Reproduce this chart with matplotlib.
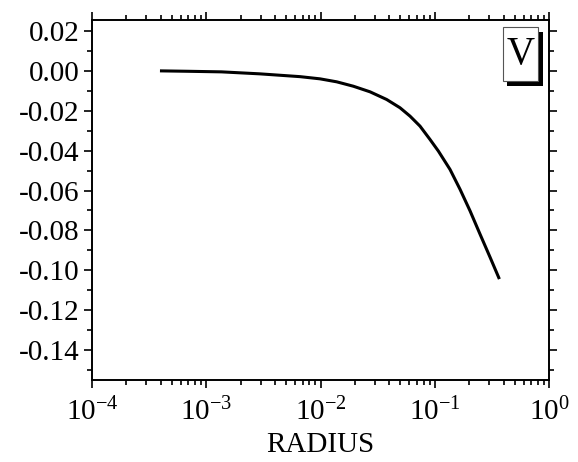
import matplotlib
matplotlib.use("Agg")
import matplotlib.pyplot as plt
from matplotlib.patches import Rectangle
from matplotlib.ticker import MultipleLocator, LogLocator, LogFormatterMathtext, FormatStrFormatter

plt.rcParams["font.family"] = ["Liberation Serif", "DejaVu Serif"]
plt.rcParams["mathtext.fontset"] = "custom"
plt.rcParams["mathtext.rm"] = "Liberation Serif"
plt.rcParams["mathtext.it"] = "Liberation Serif:italic"
plt.rcParams["axes.unicode_minus"] = False

# potential V against radius
radius = [3.94e-4, 6.75e-4, 1.36e-3, 2.95e-3, 6.62e-3, 9.9e-3, 0.01387, 0.01937,
          0.0271, 0.0379, 0.0496, 0.0607, 0.0742, 0.0908, 0.1074, 0.1358,
          0.1663, 0.2034, 0.2488, 0.3047, 0.3673]
v = [0.0, -0.0002, -0.0005, -0.0015, -0.0029, -0.0040, -0.0055, -0.0077,
     -0.0105, -0.01435, -0.0185, -0.0227, -0.0277, -0.0344, -0.0402, -0.0494,
     -0.0594, -0.0702, -0.0819, -0.0935, -0.1044]

X_LIM = (1e-4, 1e0)
Y_LIM = (-0.155, 0.0255)
LABEL = "V"
FS = 21

fig = plt.figure(figsize=(5.78, 4.62), dpi=100)
ax = fig.add_axes([0.159, 0.1775, 0.791, 0.7792])

ax.plot(radius, v, color="black", linewidth=2.2, solid_capstyle="butt",
        solid_joinstyle="round")
ax.set_xscale("log")
ax.set_xlim(*X_LIM)
ax.set_ylim(*Y_LIM)

ax.xaxis.set_major_locator(LogLocator(base=10, numticks=10))
ax.xaxis.set_minor_locator(LogLocator(base=10, subs=range(2, 10), numticks=20))
ax.xaxis.set_major_formatter(LogFormatterMathtext())
ax.yaxis.set_major_locator(MultipleLocator(0.02))
ax.yaxis.set_minor_locator(MultipleLocator(0.01))
ax.yaxis.set_major_formatter(FormatStrFormatter("%.2f"))

ax.tick_params(which="both", direction="out", top=True, right=True,
               labeltop=False, labelright=False, width=1.2, labelsize=FS, colors="black")
ax.tick_params(which="major", length=6, pad=3)
ax.tick_params(which="minor", length=3.5)
ax.tick_params(axis="x", which="major", pad=7)
for s in ax.spines.values():
    s.set_linewidth(1.4)

ax.set_xlabel("RADIUS", fontsize=FS, labelpad=4)

# legend box with a solid drop shadow
ax.add_patch(Rectangle((0.908, 0.8167), 0.0782, 0.15, transform=ax.transAxes,
                       facecolor="black", edgecolor="none", zorder=5))
ax.add_patch(Rectangle((0.8987, 0.8314), 0.0766, 0.1483, transform=ax.transAxes,
                       facecolor="white", edgecolor="#555555", linewidth=0.8, zorder=6))
ax.text(0.937, 0.905, LABEL, transform=ax.transAxes, ha="center", va="center",
        fontsize=28, zorder=7)

fig.savefig("out.png", dpi=100)
